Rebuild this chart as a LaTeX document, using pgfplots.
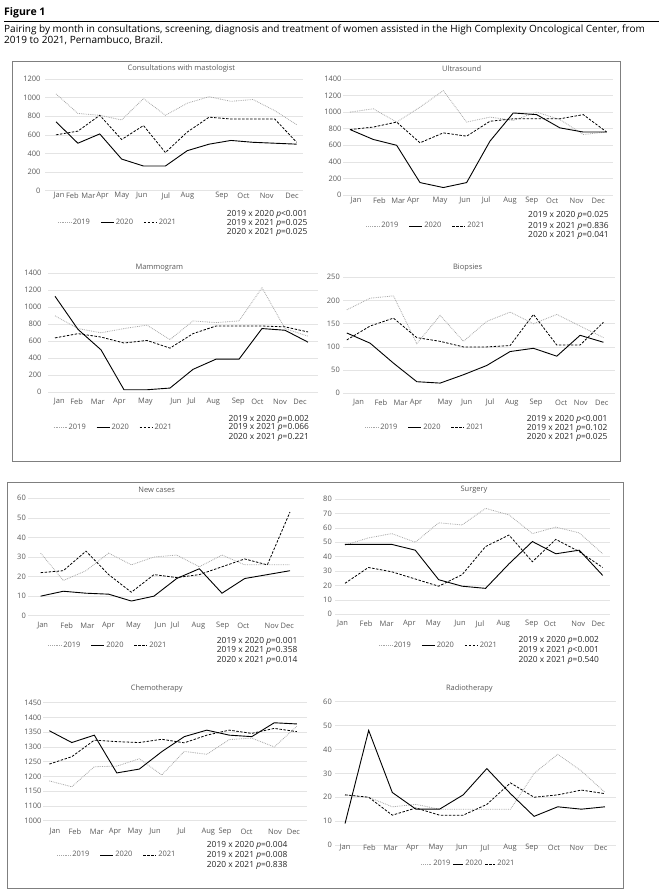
\documentclass[border=0pt]{standalone}
\usepackage{fontspec}
\setmainfont{Open Sans}
\usepackage{pgfplots}
\pgfplotsset{compat=1.18}
\definecolor{tc}{HTML}{595959}
\definecolor{gl}{HTML}{E4E4E4}
\definecolor{frm}{HTML}{7F7F7F}
\newcommand\tfont{\fontsize{7.5}{9}\selectfont}

\pgfplotsset{
  panel/.style={
    scale only axis, clip=false,
    axis line style={draw=none},
    major tick length=0pt,
    ymajorgrids, grid style={gl, line width=0.5pt},
    tick label style={font=\tfont, text=tc},
    /pgf/number format/assume math mode=true,
    /pgf/number format/1000 sep={},
    yticklabel style={inner sep=0pt, anchor=east},
    xticklabel style={inner sep=0pt, anchor=center},
    xticklabels={Jan,Feb,Mar,Apr,May,Jun,Jul,Aug,Sep,Oct,Nov,Dec},
    legend columns=3,
    legend cell align=left,
    legend image code/.code={\draw[##1] (0pt,0pt) -- (13pt,0pt);},
    legend style={draw=none, fill=none, anchor=center, inner sep=0pt,
      font=\tfont, text=tc, nodes={inner sep=1.5pt},
      /tikz/every even column/.append style={column sep=9pt}},
  },
  s19/.style={black!35, line width=0.8pt, dash pattern=on 0.8pt off 1pt},
  s20/.style={black, line width=0.9pt},
  s21/.style={black, line width=0.8pt, dash pattern=on 2.5pt off 1.5pt},
}
\tikzset{
  ttl/.style={font=\tfont, text=tc, inner sep=0pt},
  pv/.style={font=\fontsize{8.4}{9}\selectfont, text=black!85, inner sep=0pt, anchor=west},
}

\begin{document}
\begin{tikzpicture}
\path[use as bounding box] (0pt,0pt) rectangle (659pt,-896pt);

% header
\node[anchor=west, inner sep=0pt, font=\bfseries\fontsize{10.5}{12}\selectfont] at (4pt,-12.6pt) {Figure 1};
\draw[line width=0.8pt] (4pt,-21pt) -- (659pt,-21pt);
\node[anchor=west, inner sep=0pt, font=\fontsize{10}{11}\selectfont] at (4pt,-30.3pt)
  {Pairing by month in consultations, screening, diagnosis and treatment of women assisted in the High Complexity Oncological Center, from};
\node[anchor=west, inner sep=0pt, font=\fontsize{10}{11}\selectfont] at (4pt,-40.8pt)
  {2019 to 2021, Pernambuco, Brazil.};

\draw[frm, line width=0.8pt] (12.6pt,-61pt) rectangle (620pt,-461pt);
\draw[frm, line width=0.8pt] (7pt,-482pt) rectangle (623pt,-888pt);

% ---------- Consultations
\begin{axis}[panel, at={(45.07pt,-190.7pt)}, anchor=south west,
  width=257.9pt, height=111.7pt, xmin=-0.5, xmax=11.29,
  ymin=0, ymax=1200, ytick={0,200,...,1200},
  yticklabel style={xshift=-4.4pt}, xticklabel style={yshift=-5.3pt},
  xtick={0.14,0.75,1.48,2.13,3.01,3.92,5.02,6.01,7.58,8.57,9.63,10.79},
  legend style={at={(0.281,-0.286)}}]
\addplot[s19] coordinates {(0,1040) (1,830) (2,810) (3,760) (4,990) (5,810) (6,940) (7,1010) (8,960) (9,980) (10,860) (11,710)};
\addplot[s20] coordinates {(0,740) (1,510) (2,610) (3,340) (4,265) (5,265) (6,430) (7,500) (8,540) (9,520) (10,510) (11,500)};
\addplot[s21] coordinates {(0,600) (1,640) (2,810) (3,550) (4,700) (5,410) (6,630) (7,790) (8,770) (9,770) (10,770) (11,520)};
\legend{2019,2020,2021}
\end{axis}
\node[ttl] at (181.3pt,-69pt) {Consultations with mastologist};
\node[pv] at (226.7pt,-214pt) {2019 x 2020 \textit{p}<0.001};
\node[pv] at (226.7pt,-223pt) {2019 x 2021 \textit{p}=0.025};
\node[pv] at (226.7pt,-232.7pt) {2020 x 2021 \textit{p}=0.025};

% ---------- Ultrasound
\begin{axis}[panel, at={(343pt,-195pt)}, anchor=south west,
  width=269.9pt, height=116pt, xmin=-0.3, xmax=11.27,
  ymin=0, ymax=1400, ytick={0,200,...,1400},
  yticklabel style={xshift=-1.3pt}, xticklabel style={yshift=-5.7pt},
  xtick={0.26,1.26,2.07,2.71,3.86,4.93,5.83,6.86,7.79,8.67,9.71,10.64},
  legend style={at={(0.3075,-0.267)}}]
\addplot[s19] coordinates {(0,1000) (1,1040) (2,880) (3,1060) (4,1260) (5,880) (6,940) (7,900) (8,1000) (9,910) (10,730) (11,760)};
\addplot[s20] coordinates {(0,790) (1,670) (2,600) (3,150) (4,90) (5,150) (6,650) (7,990) (8,970) (9,810) (10,760) (11,760)};
\addplot[s21] coordinates {(0,790) (1,820) (2,880) (3,630) (4,750) (5,710) (6,890) (7,920) (8,920) (9,920) (10,970) (11,760)};
\legend{2019,2020,2021}
\end{axis}
\node[ttl] at (461.7pt,-69pt) {Ultrasound};
\node[pv] at (528pt,-215.7pt) {2019 x 2020 \textit{p}=0.025};
\node[pv] at (528pt,-226pt) {2019 x 2021 \textit{p}=0.836};
\node[pv] at (528pt,-235pt) {2020 x 2021 \textit{p}=0.041};

% ---------- Mammogram
\begin{axis}[panel, at={(48.1pt,-392.3pt)}, anchor=south west,
  width=269.8pt, height=119pt, xmin=-0.3, xmax=11.43,
  ymin=0, ymax=1400, ytick={0,200,...,1400},
  yticklabel style={xshift=-6.4pt}, xticklabel style={yshift=-9.4pt},
  xtick={0.19,0.94,1.86,2.80,3.93,5.26,5.94,6.88,7.97,8.80,9.78,10.65},
  legend style={at={(0.2417,-0.294)}}]
\addplot[s19] coordinates {(0,900) (1,750) (2,700) (3,750) (4,790) (5,620) (6,840) (7,820) (8,840) (9,1230) (10,750) (11,660)};
\addplot[s20] coordinates {(0,1130) (1,740) (2,500) (3,30) (4,30) (5,50) (6,270) (7,390) (8,390) (9,750) (10,730) (11,590)};
\addplot[s21] coordinates {(0,640) (1,690) (2,650) (3,580) (4,610) (5,520) (6,690) (7,780) (8,780) (9,780) (10,770) (11,710)};
\legend{2019,2020,2021}
\end{axis}
\node[ttl] at (159.3pt,-267.3pt) {Mammogram};
\node[pv] at (228.3pt,-419pt) {2019 x 2020 \textit{p}=0.002};
\node[pv] at (228.3pt,-427.7pt) {2019 x 2021 \textit{p}=0.066};
\node[pv] at (228.3pt,-437.3pt) {2020 x 2021 \textit{p}=0.221};

% ---------- Biopsies
\begin{axis}[panel, at={(343.3pt,-393.3pt)}, anchor=south west,
  width=271.8pt, height=116pt, xmin=-0.15, xmax=11.5,
  ymin=0, ymax=250, ytick={0,50,...,250},
  yticklabel style={xshift=-3.3pt}, xticklabel style={yshift=-9.4pt},
  xtick={0.5,1.46,2.31,2.97,4.21,5.14,6.14,7.07,8.11,9.19,10.03,10.93},
  legend style={at={(0.3006,-0.2966)}}]
\addplot[s19] coordinates {(0,180) (1,205) (2,210) (3,107) (4,168) (5,112) (6,155) (7,175) (8,150) (9,170) (10,145) (11,120)};
\addplot[s20] coordinates {(0,130) (1,108) (2,65) (3,25) (4,22) (5,40) (6,60) (7,90) (8,97) (9,80) (10,125) (11,110)};
\addplot[s21] coordinates {(0,115) (1,145) (2,162) (3,120) (4,112) (5,100) (6,100) (7,103) (8,170) (9,104) (10,104) (11,153)};
\legend{2019,2020,2021}
\end{axis}
\node[ttl] at (467.7pt,-267.3pt) {Biopsies};
\node[pv] at (526.7pt,-419.3pt) {2019 x 2020 \textit{p}<0.001};
\node[pv] at (526.7pt,-428.3pt) {2019 x 2021 \textit{p}=0.102};
\node[pv] at (526.7pt,-437.7pt) {2020 x 2021 \textit{p}=0.025};

% ---------- New cases
\begin{axis}[panel, at={(28.2pt,-615.7pt)}, anchor=south west,
  width=275.4pt, height=117.4pt, xmin=-0.55, xmax=11.6,
  ymin=0, ymax=60, ytick={0,10,...,60},
  yticklabel style={xshift=-2.2pt}, xticklabel style={yshift=-10pt},
  xtick={0.09,1.15,2.06,2.99,4.09,5.29,5.93,6.96,8.03,8.94,10.19,10.88},
  legend style={at={(0.2898,-0.2555)}}]
\addplot[s19] coordinates {(0,32) (1,18) (2,23) (3,32) (4,26) (5,30) (6,31) (7,25) (8,31) (9,26) (10,26) (11,26)};
\addplot[s20] coordinates {(0,10) (1,12.5) (2,11.5) (3,11) (4,7.5) (5,10) (6,19) (7,24) (8,11.5) (9,19) (10,21) (11,23)};
\addplot[s21] coordinates {(0,22) (1,23) (2,33) (3,21) (4,12) (5,21) (6,19.5) (7,21) (8,25) (9,29) (10,26) (11,53)};
\legend{2019,2020,2021}
\end{axis}
\node[ttl] at (156.7pt,-490pt) {New cases};
\node[pv] at (216.7pt,-641pt) {2019 x 2020 \textit{p}=0.001};
\node[pv] at (216.7pt,-650.7pt) {2019 x 2021 \textit{p}=0.358};
\node[pv] at (216.7pt,-660pt) {2020 x 2021 \textit{p}=0.014};

% ---------- Surgery
\begin{axis}[panel, at={(334.9pt,-614.3pt)}, anchor=south west,
  width=274.8pt, height=115.3pt, xmin=-0.43, xmax=11.3,
  ymin=0, ymax=80, ytick={0,10,...,80},
  yticklabel style={xshift=-2.9pt}, xticklabel style={yshift=-9.7pt},
  xtick={-0.1,0.9,1.78,2.75,3.77,4.91,5.76,6.76,7.97,8.75,9.96,10.81},
  legend style={at={(0.377,-0.2723)}}]
\addplot[s19] coordinates {(0,48) (1,53) (2,56) (3,50) (4,63.5) (5,62) (6,73.5) (7,69) (8,56) (9,60.5) (10,56.5) (11,42)};
\addplot[s20] coordinates {(0,48.5) (1,48.5) (2,48.5) (3,44.5) (4,24) (5,19.5) (6,18) (7,35) (8,50.5) (9,42) (10,44.5) (11,27)};
\addplot[s21] coordinates {(0,21.5) (1,32.5) (2,29.5) (3,24.5) (4,19.5) (5,27.5) (6,47) (7,55) (8,36.5) (9,52) (10,43.5) (11,32.5)};
\legend{2019,2020,2021}
\end{axis}
\node[ttl] at (474pt,-490pt) {Surgery};
\node[pv] at (518.3pt,-640.7pt) {2019 x 2020 \textit{p}=0.002};
\node[pv] at (518.3pt,-650.7pt) {2019 x 2021 \textit{p}<0.001};
\node[pv] at (518.3pt,-660pt) {2020 x 2021 \textit{p}=0.540};

% ---------- Chemotherapy
\begin{axis}[panel, at={(43pt,-820.7pt)}, anchor=south west,
  width=263.9pt, height=118pt, xmin=-0.28, xmax=11.45,
  ymin=1050, ymax=1450, ytick={1050,1100,...,1450},
  yticklabels={1000,1100,1150,1200,1250,1300,1350,1400,1450},
  yticklabel style={xshift=-1.3pt}, xticklabel style={yshift=-11pt},
  xtick={0.25,1.14,2.11,2.92,3.81,4.7,5.88,7.07,7.81,8.77,10.03,10.85},
  legend style={at={(0.2804,-0.2907)}}]
\addplot[s19] coordinates {(0,1185) (1,1165) (2,1233) (3,1235) (4,1260) (5,1205) (6,1285) (7,1275) (8,1325) (9,1330) (10,1300) (11,1370)};
\addplot[s20] coordinates {(0,1355) (1,1315) (2,1340) (3,1212) (4,1225) (5,1284) (6,1335) (7,1357) (8,1340) (9,1335) (10,1382) (11,1378)};
\addplot[s21] coordinates {(0,1242) (1,1267) (2,1323) (3,1318) (4,1315) (5,1326) (6,1314) (7,1340) (8,1357) (9,1346) (10,1363) (11,1352)};
\legend{2019,2020,2021}
\end{axis}
\node[ttl] at (156.7pt,-689pt) {Chemotherapy};
\node[pv] at (206.7pt,-845pt) {2019 x 2020 \textit{p}=0.004};
\node[pv] at (206.7pt,-855pt) {2019 x 2021 \textit{p}=0.008};
\node[pv] at (206.7pt,-865pt) {2020 x 2021 \textit{p}=0.838};

% ---------- Radiotherapy
\begin{axis}[panel, at={(335.1pt,-845pt)}, anchor=south west,
  width=281pt, height=143.3pt, xmin=-0.42, xmax=11.47,
  ymin=0, ymax=60, ytick={0,10,...,60},
  yticklabel style={xshift=-3.1pt}, xticklabel style={yshift=-3pt},
  xtick={0,1.03,1.93,2.85,3.85,4.94,5.92,6.98,7.9,8.84,9.8,10.82},
  legend image code/.code={\draw[#1] (0pt,0pt) -- (10pt,0pt);},
  legend style={at={(0.4747,-0.1326)},
    /tikz/every even column/.append style={column sep=1pt}}]
\addplot[s19] coordinates {(0,21) (1,20) (2,16) (3,17) (4,15) (5,15) (6,15) (7,15) (8,30) (9,38) (10,31) (11,22)};
\addplot[s20] coordinates {(0,9) (1,48) (2,22) (3,15) (4,15) (5,21) (6,32) (7,21.5) (8,12) (9,16) (10,15) (11,16)};
\addplot[s21] coordinates {(0,21) (1,20) (2,12.5) (3,15.5) (4,12.5) (5,12.5) (6,17) (7,26) (8,20) (9,21) (10,23) (11,21.5)};
\legend{2019,2020,2021}
\end{axis}
\node[ttl] at (469.3pt,-689pt) {Radiotherapy};

\end{tikzpicture}
\end{document}
